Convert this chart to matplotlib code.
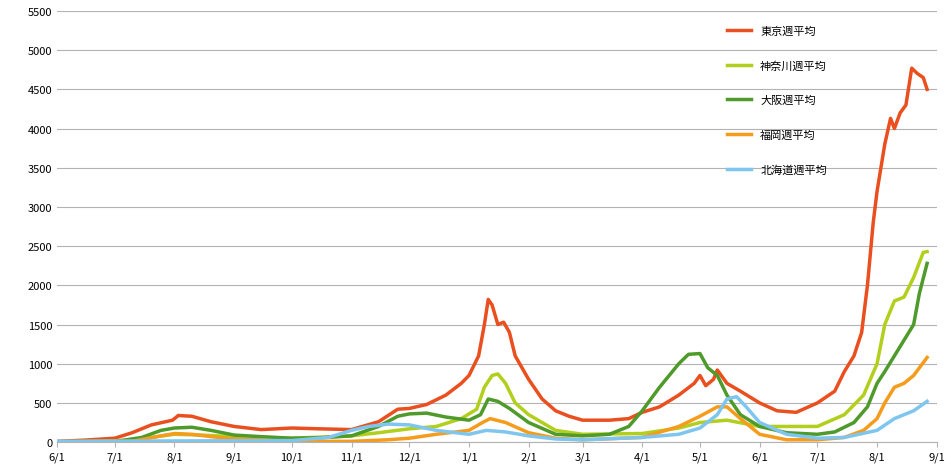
import numpy as np
import pandas as pd
import matplotlib
matplotlib.use("Agg")
import matplotlib.pyplot as plt
import matplotlib.dates as mdates

plt.rcParams['font.family'] = ['Noto Sans CJK JP', 'DejaVu Sans']

tokyo = {
    "2020-06-01": 10, "2020-06-15": 25, "2020-07-01": 50, "2020-07-10": 120, "2020-07-20": 220,
    "2020-07-31": 280, "2020-08-03": 340, "2020-08-10": 330, "2020-08-20": 260, "2020-09-01": 200,
    "2020-09-15": 160, "2020-10-01": 180, "2020-10-15": 170, "2020-11-01": 160, "2020-11-15": 260,
    "2020-11-25": 420, "2020-12-01": 430, "2020-12-10": 480, "2020-12-20": 600, "2020-12-28": 750,
    "2021-01-01": 850, "2021-01-06": 1100, "2021-01-09": 1500, "2021-01-11": 1820, "2021-01-13": 1750,
    "2021-01-16": 1500, "2021-01-19": 1530, "2021-01-22": 1400, "2021-01-25": 1100, "2021-02-01": 800,
    "2021-02-08": 550, "2021-02-15": 400, "2021-02-22": 330, "2021-03-01": 280, "2021-03-15": 280,
    "2021-03-25": 300, "2021-04-01": 380, "2021-04-10": 450, "2021-04-20": 600, "2021-04-28": 750,
    "2021-05-01": 850, "2021-05-04": 720, "2021-05-08": 800, "2021-05-10": 920, "2021-05-15": 750,
    "2021-05-22": 650, "2021-06-01": 500, "2021-06-10": 400, "2021-06-20": 380, "2021-07-01": 500,
    "2021-07-10": 650, "2021-07-15": 900, "2021-07-20": 1100, "2021-07-24": 1400, "2021-07-27": 2000,
    "2021-07-30": 2800, "2021-08-01": 3200, "2021-08-05": 3800, "2021-08-08": 4130, "2021-08-10": 4000,
    "2021-08-13": 4200, "2021-08-16": 4300, "2021-08-19": 4770, "2021-08-22": 4700, "2021-08-25": 4650,
    "2021-08-27": 4500,
}
kanagawa = {
    "2020-06-01": 5, "2020-07-01": 15, "2020-07-20": 60, "2020-08-01": 100, "2020-08-15": 90,
    "2020-09-01": 70, "2020-10-01": 50, "2020-11-01": 80, "2020-11-15": 120, "2020-12-01": 170,
    "2020-12-15": 200, "2020-12-28": 300, "2021-01-05": 420, "2021-01-09": 700, "2021-01-13": 850,
    "2021-01-16": 870, "2021-01-20": 750, "2021-01-25": 500, "2021-02-01": 350, "2021-02-15": 150,
    "2021-03-01": 100, "2021-04-01": 110, "2021-04-20": 180, "2021-05-01": 250, "2021-05-15": 280,
    "2021-06-01": 200, "2021-07-01": 200, "2021-07-15": 350, "2021-07-25": 600, "2021-08-01": 1000,
    "2021-08-05": 1500, "2021-08-10": 1800, "2021-08-15": 1850, "2021-08-20": 2100, "2021-08-25": 2420,
    "2021-08-27": 2430,
}
osaka = {
    "2020-06-01": 3, "2020-07-01": 5, "2020-07-15": 60, "2020-07-25": 150, "2020-08-01": 180,
    "2020-08-10": 190, "2020-08-20": 150, "2020-09-01": 90, "2020-09-15": 70, "2020-10-01": 50,
    "2020-10-15": 55, "2020-11-01": 80, "2020-11-15": 200, "2020-11-25": 330, "2020-12-01": 360,
    "2020-12-10": 370, "2020-12-20": 320, "2021-01-01": 280, "2021-01-07": 350, "2021-01-11": 550,
    "2021-01-16": 520, "2021-01-22": 430, "2021-02-01": 250, "2021-02-15": 100, "2021-03-01": 80,
    "2021-03-15": 100, "2021-03-25": 200, "2021-04-01": 400, "2021-04-10": 700, "2021-04-20": 1000,
    "2021-04-25": 1120, "2021-05-01": 1130, "2021-05-05": 950, "2021-05-10": 850, "2021-05-15": 600,
    "2021-05-22": 350, "2021-06-01": 200, "2021-06-15": 120, "2021-07-01": 100, "2021-07-10": 130,
    "2021-07-20": 250, "2021-07-27": 450, "2021-08-01": 750, "2021-08-05": 900, "2021-08-10": 1100,
    "2021-08-15": 1300, "2021-08-20": 1500, "2021-08-23": 1900, "2021-08-27": 2280,
}
fukuoka = {
    "2020-06-01": 0, "2020-07-10": 10, "2020-07-25": 80, "2020-08-01": 110, "2020-08-10": 100,
    "2020-08-20": 70, "2020-09-01": 40, "2020-10-01": 10, "2020-11-01": 10, "2020-11-20": 30,
    "2020-12-01": 50, "2020-12-15": 100, "2021-01-01": 150, "2021-01-08": 250, "2021-01-12": 300,
    "2021-01-20": 250, "2021-02-01": 120, "2021-02-15": 50, "2021-03-01": 30, "2021-04-01": 60,
    "2021-04-20": 200, "2021-05-01": 330, "2021-05-10": 450, "2021-05-15": 450, "2021-05-22": 300,
    "2021-06-01": 100, "2021-06-15": 30, "2021-07-01": 30, "2021-07-15": 60, "2021-07-25": 150,
    "2021-08-01": 300, "2021-08-05": 500, "2021-08-10": 700, "2021-08-15": 750, "2021-08-20": 850,
    "2021-08-27": 1080,
}
hokkaido = {
    "2020-06-01": 10, "2020-08-01": 15, "2020-10-01": 20, "2020-10-20": 60, "2020-11-01": 150,
    "2020-11-10": 200, "2020-11-20": 230, "2020-12-01": 220, "2020-12-15": 150, "2021-01-01": 100,
    "2021-01-10": 150, "2021-01-20": 130, "2021-02-01": 80, "2021-02-15": 40, "2021-03-01": 30,
    "2021-04-01": 60, "2021-04-20": 100, "2021-05-01": 180, "2021-05-10": 350, "2021-05-15": 550,
    "2021-05-20": 580, "2021-05-25": 450, "2021-06-01": 250, "2021-06-15": 100, "2021-07-01": 50,
    "2021-07-15": 60, "2021-08-01": 150, "2021-08-10": 300, "2021-08-20": 400, "2021-08-27": 520,
}

series = [
    ("東京週平均", tokyo, "#ea4f1f"),
    ("神奈川週平均", kanagawa, "#b2cf1d"),
    ("大阪週平均", osaka, "#4e9a2a"),
    ("福岡週平均", fukuoka, "#f59c1c"),
    ("北海道週平均", hokkaido, "#7fc6ef"),
]

fig = plt.figure(figsize=(9.51, 4.77), dpi=100)
ax = fig.add_axes([0.06, 0.071, 0.925, 0.904])

for name, d, color in series:
    x = pd.to_datetime(list(d.keys()))
    ax.plot(x, list(d.values()), color=color, lw=2.5, label=name)

ax.set_ylim(0, 5500)
ax.set_yticks(range(0, 5501, 500))
ax.set_xlim(pd.Timestamp("2020-06-01"), pd.Timestamp("2021-09-01"))
ax.xaxis.set_major_locator(mdates.MonthLocator())
ax.xaxis.set_major_formatter(mdates.DateFormatter("%-m/1"))
ax.grid(axis="y", color="#b3b3b3", lw=0.8)
ax.set_axisbelow(True)
for s in ["top", "right", "left"]:
    ax.spines[s].set_visible(False)
ax.spines["bottom"].set_color("#b3b3b3")
ax.tick_params(axis="y", length=0, labelsize=8)
ax.tick_params(axis="x", color="#b3b3b3", labelsize=8)

ax.legend(loc="upper left", bbox_to_anchor=(0.75, 0.99), frameon=False,
          fontsize=8, labelspacing=2.2, handlelength=2.2)

fig.savefig("out.png")
